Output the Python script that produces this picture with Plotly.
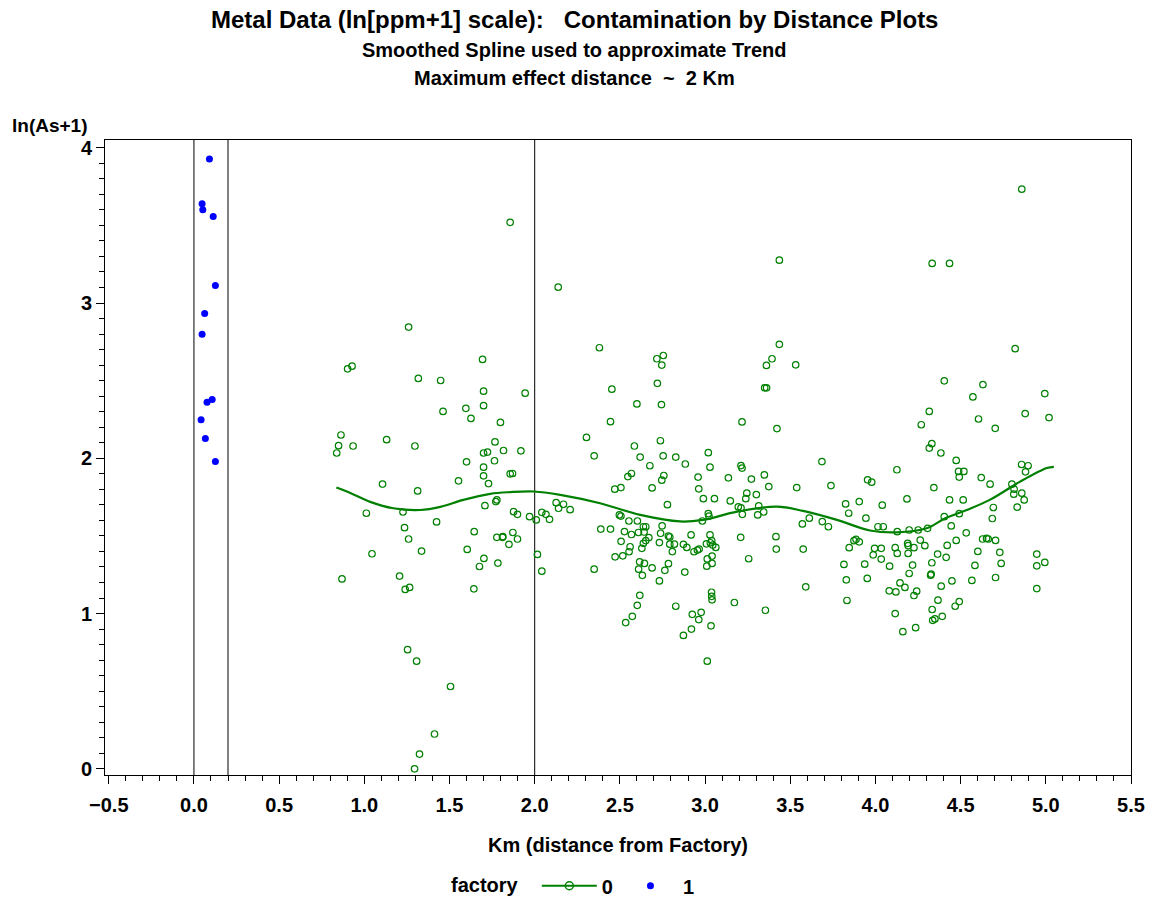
import plotly.graph_objects as go

# factory = 1 sites (next to the plant)
km_f1 = [0.091, 0.048, 0.052, 0.113, 0.126, 0.063, 0.048, 0.077, 0.107, 0.042, 0.067, 0.126]
as_f1 = [3.927, 3.639, 3.601, 3.558, 3.113, 2.932, 2.799, 2.361, 2.378, 2.248, 2.127, 1.980]

# factory = 0 sites
km_f0 = [
    1.260, 1.694, 0.902, 0.928, 1.317, 1.448, 1.700, 1.700, 1.596, 1.462, 1.626, 1.799, 0.863, 1.131,
    1.297, 0.849, 0.934, 0.838, 1.767, 1.817, 1.700, 1.723, 1.600, 1.764, 1.700, 1.700, 1.553, 1.729,
    1.856, 1.107, 1.313, 1.012, 1.227, 1.772, 1.778, 1.708, 1.424, 1.236, 1.645, 1.260, 1.778, 1.811,
    1.849, 1.045, 1.336, 1.604, 1.702, 1.676, 1.784, 0.869, 1.207, 1.240, 1.266, 1.643, 1.254, 1.307,
    1.506, 1.412, 1.324, 1.295,
    1.856, 2.138, 2.380, 2.717, 2.755, 2.746, 1.944, 2.453, 2.720, 2.600, 2.744, 2.445, 2.304, 2.738,
    2.585, 1.919, 2.349, 2.619, 2.754, 2.828, 2.676, 1.870, 2.547, 2.568, 2.758, 2.746, 2.470, 2.506,
    2.689, 2.779, 1.876, 1.899, 1.970, 2.009, 2.042, 2.066, 2.087, 2.126, 2.140, 2.169, 2.208, 2.497,
    2.506, 2.553, 2.603, 2.388, 2.445, 2.527, 2.568, 2.609, 2.638, 2.652, 2.642, 2.670, 2.652, 2.638,
    2.629, 2.748, 2.739, 2.785, 2.793, 1.872, 1.899, 1.813, 2.016, 2.042, 2.507, 2.560, 2.554, 2.472,
    2.517, 2.793, 2.820, 2.732, 2.808, 2.349, 2.616, 2.644, 2.610, 2.632, 2.689, 2.785, 2.764, 2.732,
    2.617, 2.602, 2.828, 2.573, 2.534, 2.881, 2.918, 2.873, 2.893, 2.935, 2.955, 2.965, 3.008, 3.031,
    3.039, 3.045, 3.063, 3.029, 3.013, 3.041, 3.041, 3.010, 3.038, 3.039, 3.041, 2.977, 2.925, 2.963,
    3.035, 2.920, 2.873, 3.013,
    3.436, 3.436, 3.393, 3.360, 3.532, 3.350, 3.361, 3.217, 3.422, 2.884, 3.019, 3.029, 3.211, 3.217,
    3.686, 2.959, 3.137, 3.272, 3.348, 3.374, 3.538, 3.739, 3.954, 2.963, 2.990, 3.055, 3.148, 3.245,
    3.239, 3.301, 3.195, 3.211, 3.219, 3.315, 3.344, 3.309, 3.019, 3.023, 2.984, 3.825, 3.905, 3.843,
    3.944, 3.612, 3.571, 3.688, 3.724, 3.209, 3.416, 3.886, 3.418, 3.576, 3.256, 3.172, 3.354, 3.591,
    3.874, 3.905, 3.846, 3.815, 3.937, 3.829, 3.952, 3.833,
    4.859, 4.333, 4.435, 4.820, 4.404, 4.631, 4.572, 4.994, 4.316, 4.269, 4.605, 4.703, 4.879, 5.019,
    4.331, 4.316, 4.384, 4.474, 4.488, 4.519, 4.492, 4.126, 3.978, 4.621, 4.673, 4.858, 4.896, 4.881,
    4.801, 4.814, 4.812, 4.859, 4.873, 4.343, 4.040, 4.185, 4.435, 4.515, 4.692, 4.832, 4.686, 4.404,
    4.492, 4.445, 4.015, 4.046, 4.128, 4.198, 4.251, 4.306, 4.533, 4.263, 4.290, 4.189, 4.192, 4.421,
    4.474, 4.629, 4.652, 4.662, 4.705, 3.995, 4.034, 3.987, 4.034, 4.116, 4.128, 4.192, 4.226, 4.365,
    4.415, 4.601, 4.730, 4.947, 4.947, 4.994, 4.083, 4.218, 4.198, 4.331, 4.324, 4.327, 4.584, 4.738,
    4.449, 4.566, 4.705, 4.144, 4.173, 4.081, 4.120, 4.242, 4.226, 4.386, 4.947, 4.367, 4.492, 4.468,
    4.333, 4.116, 4.392, 4.349, 4.336, 4.236, 4.161,
]
as_f0 = [
    2.845, 2.637, 2.576, 2.593, 2.514, 2.501, 2.432, 2.339, 2.322, 2.302, 2.257, 2.231, 2.150, 2.120,
    2.079, 2.081, 2.079, 2.034, 2.105, 2.050, 2.034, 2.040, 1.977, 1.984, 1.943, 1.887, 1.855, 1.837,
    1.900, 1.834, 1.790, 1.646, 1.654, 1.721, 1.732, 1.695, 1.590, 1.553, 1.527, 1.480, 1.491, 1.491,
    1.446, 1.385, 1.402, 1.413, 1.355, 1.303, 1.325, 1.223, 1.241, 1.155, 1.168, 1.159, 0.767, 0.693,
    0.530, 0.224, 0.095, 0.000,
    3.520, 3.102, 2.712, 2.641, 2.662, 2.600, 2.419, 2.445, 2.483, 2.350, 2.346, 2.236, 2.134, 2.113,
    2.079, 2.048, 2.016, 2.008, 2.016, 2.008, 1.952, 1.902, 1.882, 1.902, 1.889, 1.859, 1.801, 1.811,
    1.809, 1.701, 1.656, 1.639, 1.624, 1.603, 1.652, 1.639, 1.607, 1.714, 1.678, 1.704, 1.669, 1.635,
    1.628, 1.596, 1.596, 1.544, 1.544, 1.528, 1.509, 1.522, 1.559, 1.559, 1.525, 1.489, 1.470, 1.452,
    1.420, 1.565, 1.517, 1.499, 1.493, 1.522, 1.480, 1.495, 1.381, 1.273, 1.465, 1.430, 1.398, 1.365,
    1.372, 1.447, 1.447, 1.457, 1.399, 1.286, 1.333, 1.323, 1.286, 1.246, 1.294, 1.321, 1.278, 1.210,
    1.117, 1.053, 1.047, 0.982, 0.942, 1.267, 1.506, 1.446, 1.426, 1.398, 1.409, 1.415, 1.449, 1.456,
    1.469, 1.441, 1.426, 1.506, 1.352, 1.370, 1.323, 1.305, 1.137, 1.111, 1.088, 1.008, 0.995, 0.961,
    0.921, 0.900, 0.859, 0.693,
    3.276, 2.734, 2.641, 2.598, 2.602, 2.454, 2.454, 2.234, 2.191, 1.963, 2.036, 1.943, 1.953, 1.937,
    1.979, 1.879, 1.874, 1.866, 1.893, 1.818, 1.811, 1.824, 1.861, 1.803, 1.740, 1.740, 1.725, 1.775,
    1.740, 1.766, 1.687, 1.680, 1.639, 1.693, 1.654, 1.635, 1.643, 1.628, 1.596, 1.706, 1.721, 1.646,
    1.614, 1.614, 1.577, 1.592, 1.559, 1.491, 1.495, 1.478, 1.415, 1.415, 1.353, 1.071, 1.021, 1.172,
    1.469, 1.462, 1.424, 1.316, 1.318, 1.217, 1.226, 1.084,
    3.733, 3.255, 3.255, 2.706, 2.499, 2.475, 2.395, 2.417, 2.302, 2.216, 2.253, 2.193, 2.288, 2.262,
    2.094, 2.066, 2.034, 1.986, 1.915, 1.915, 1.879, 1.926, 1.846, 1.876, 1.833, 1.960, 1.952, 1.913,
    1.833, 1.801, 1.769, 1.775, 1.732, 1.811, 1.698, 1.738, 1.732, 1.732, 1.683, 1.685, 1.612, 1.624,
    1.643, 1.564, 1.559, 1.559, 1.527, 1.538, 1.538, 1.549, 1.520, 1.473, 1.437, 1.452, 1.438, 1.439,
    1.471, 1.480, 1.484, 1.480, 1.471, 1.420, 1.420, 1.378, 1.351, 1.424, 1.387, 1.387, 1.424, 1.383,
    1.362, 1.400, 1.394, 1.383, 1.307, 1.329, 1.305, 1.312, 1.258, 1.327, 1.247, 1.254, 1.310, 1.323,
    1.210, 1.213, 1.232, 1.197, 1.168, 1.146, 1.139, 1.144, 1.116, 1.176, 1.161, 1.086, 1.077, 1.047,
    1.026, 1.000, 0.982, 0.965, 0.956, 0.909, 0.883,
]

# smoothing-spline trend for factory = 0
trend_km = [0.836, 0.918, 1.035, 1.170, 1.328, 1.446, 1.581, 1.739, 1.856, 1.997, 2.150, 2.384,
            2.620, 2.853, 2.988, 3.188, 3.422, 3.575, 3.774, 3.968, 4.126, 4.300, 4.410, 4.536,
            4.671, 4.847, 5.006, 5.047]
trend_as = [1.812, 1.777, 1.719, 1.678, 1.667, 1.687, 1.732, 1.771, 1.782, 1.786, 1.764, 1.710,
            1.635, 1.593, 1.603, 1.656, 1.689, 1.661, 1.603, 1.535, 1.523, 1.549, 1.614, 1.667,
            1.732, 1.848, 1.937, 1.945]

ref_lines = [0.0, 0.2, 2.0]
x_ticks = [-0.5, 0.0, 0.5, 1.0, 1.5, 2.0, 2.5, 3.0, 3.5, 4.0, 4.5, 5.0, 5.5]
y_ticks = [0, 1, 2, 3, 4]

GREEN = "#008000"
BLUE = "#0000FF"
FONT = "Liberation Sans"

fig = go.Figure()

fig.add_trace(go.Scatter(
    x=km_f0, y=as_f0, mode="markers", showlegend=False,
    marker=dict(symbol="circle-open", size=6.5, color=GREEN, line=dict(width=1.2, color=GREEN)),
))
fig.add_trace(go.Scatter(
    x=trend_km, y=trend_as, mode="lines", showlegend=False,
    line=dict(color=GREEN, width=2.2, shape="spline", smoothing=1.0),
))
# legend entries
fig.add_trace(go.Scatter(
    x=[None], y=[None], mode="lines+markers", name="0",
    marker=dict(symbol="circle-open", size=8, color=GREEN, line=dict(width=1.5, color=GREEN)),
    line=dict(color=GREEN, width=2),
))
fig.add_trace(go.Scatter(
    x=km_f1, y=as_f1, mode="markers", name="1",
    marker=dict(symbol="circle", size=7, color=BLUE),
))

for xv in ref_lines:
    fig.add_shape(type="line", xref="x", yref="paper", x0=xv, x1=xv, y0=0, y1=1,
                  line=dict(color="black", width=1), layer="below")

bold = dict(family=FONT, color="black", weight="bold")

annotations = [
    dict(text="Metal Data (ln[ppm+1] scale):\u00a0\u00a0\u00a0Contamination by Distance Plots",
         x=0.4576, y=1.189, font=dict(size=24, **bold)),
    dict(text="Smoothed Spline used to approximate Trend",
         x=0.4576, y=1.1417, font=dict(size=20, **bold)),
    dict(text="Maximum effect distance\u00a0\u00a0~\u00a0\u00a02 Km",
         x=0.4576, y=1.0976, font=dict(size=20, **bold)),
]
for a in annotations:
    fig.add_annotation(xref="paper", yref="paper", showarrow=False,
                       xanchor="center", yanchor="middle", **a)
fig.add_annotation(text="ln(As+1)", xref="paper", yref="paper", x=-0.0926, y=1.0236,
                   xanchor="left", yanchor="middle", showarrow=False,
                   font=dict(size=19, **bold))

fig.update_xaxes(
    range=[-0.522, 5.5], tickvals=x_ticks, ticktext=[f"{v:.1f}".replace("-", "\u2212") for v in x_ticks],
    ticks="outside", ticklen=8, tickwidth=1, tickcolor="black", ticklabelstandoff=4,
    minor=dict(dtick=0.1, tick0=0, ticks="outside", ticklen=5, tickwidth=1, tickcolor="black", showgrid=False),
    showline=True, linecolor="black", linewidth=1, mirror=True, showgrid=False, zeroline=False,
    tickfont=dict(size=20, **bold), automargin=False,
    title=dict(text="Km (distance from Factory)", font=dict(size=20, **bold), standoff=22),
)
fig.update_yaxes(
    range=[-0.04, 4.05], tickvals=y_ticks,
    ticks="outside", ticklen=8, tickwidth=1, tickcolor="black", ticklabelstandoff=0,
    minor=dict(dtick=0.1, tick0=0, ticks="outside", ticklen=5, tickwidth=1, tickcolor="black", showgrid=False),
    showline=True, linecolor="black", linewidth=1, mirror=True, showgrid=False, zeroline=False,
    tickfont=dict(size=20, **bold), automargin=False,
)

fig.update_layout(
    width=1149, height=902,
    margin=dict(l=105, r=18, t=140, b=127),
    paper_bgcolor="white", plot_bgcolor="white",
    font=dict(family=FONT, color="black"),
    legend=dict(
        orientation="h", xref="container", yref="container",
        x=0.5, xanchor="center", y=0.018, yanchor="middle",
        title=dict(text="factory\u00a0\u00a0", side="left", font=dict(size=20, **bold)),
        font=dict(size=20, **bold), itemwidth=55,
    ),
)

fig.write_html("out.html")
